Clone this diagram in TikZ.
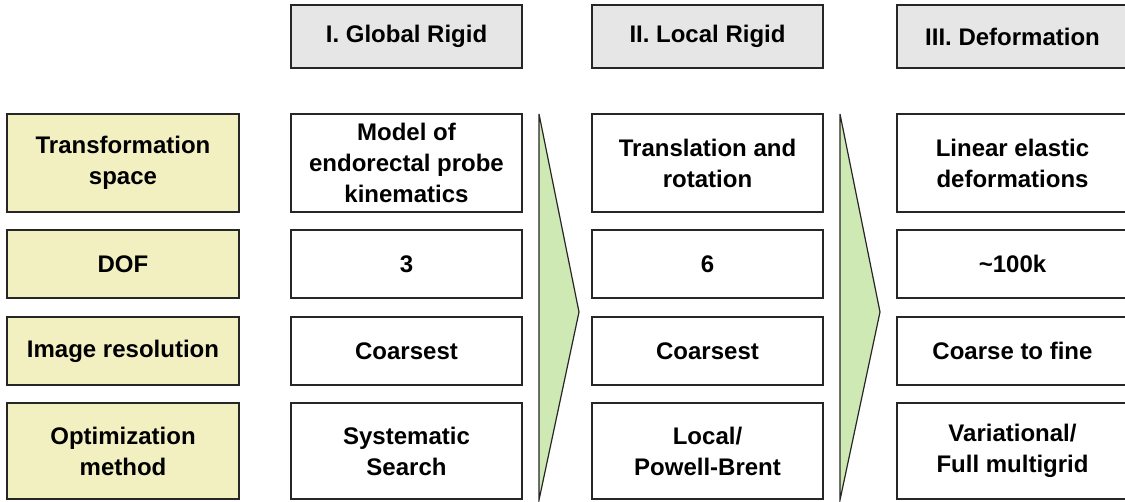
\documentclass[tikz,border=0pt]{standalone}
\usepackage{fontspec}
\setmainfont{Liberation Sans}
\usepackage{tikz}
\definecolor{labelfill}{RGB}{242,240,193}
\definecolor{headfill}{RGB}{230,230,230}
\definecolor{arrowfill}{RGB}{207,233,181}
\tikzstyle{cell} = [draw=black!85, line width=1.2pt, fill=white, align=center, inner sep=0pt, minimum width=231pt, font=\fontsize{24}{31}\selectfont\bfseries]
\tikzstyle{labelcell} = [cell, fill=labelfill, minimum width=232pt]
\tikzstyle{headcell} = [cell, fill=headfill, minimum height=63pt]
\newcommand{\StageArrow}[1]{%
	\draw[draw=black!85, line width=1.2pt, fill=arrowfill, line join=miter] (#1,114) -- (#1+40,312) -- (#1,500) -- cycle;%
}

\begin{document}
\begin{tikzpicture}[x=1pt,y=-1pt]
\useasboundingbox (0,0) rectangle (1125,502);
% stage headers
\node[headcell] (h1) at (406.5,36.5) {I. Global Rigid};
\node[headcell] (h2) at (707.5,36.5) {II. Local Rigid};
\node[headcell] (h3) at (1012.5,36.5) {III. Deformation};
% row labels
\node[labelcell, minimum height=98pt] (l1) at (123,163) {Transformation\\space};
\node[labelcell, minimum height=68pt] (l2) at (123,264) {DOF};
\node[labelcell, minimum height=68pt] (l3) at (123,351) {Image resolution};
\node[labelcell, minimum height=96pt] (l4) at (123,451) {Optimization\\method};
% stage I
\node[cell, minimum height=98pt] (a1) at (406.5,163) {Model of\\endorectal probe\\kinematics};
\node[cell, minimum height=68pt] (a2) at (406.5,264) {3};
\node[cell, minimum height=68pt] (a3) at (406.5,351) {Coarsest};
\node[cell, minimum height=96pt] (a4) at (406.5,451) {Systematic\\Search};
% stage II
\node[cell, minimum height=98pt] (b1) at (707.5,163) {Translation and\\rotation};
\node[cell, minimum height=68pt] (b2) at (707.5,264) {6};
\node[cell, minimum height=68pt] (b3) at (707.5,351) {Coarsest};
\node[cell, minimum height=96pt] (b4) at (707.5,451) {Local/\\Powell-Brent};
% stage III
\node[cell, minimum height=98pt] (c1) at (1012.5,163) {Linear elastic\\deformations};
\node[cell, minimum height=68pt] (c2) at (1012.5,264) {\textasciitilde100k};
\node[cell, minimum height=68pt] (c3) at (1012.5,351) {Coarse to fine};
\node[cell, minimum height=96pt] (c4) at (1012.5,451) {Variational/\\Full multigrid};
% arrows between stages
\StageArrow{539}
\StageArrow{840}
\end{tikzpicture}
\end{document}
